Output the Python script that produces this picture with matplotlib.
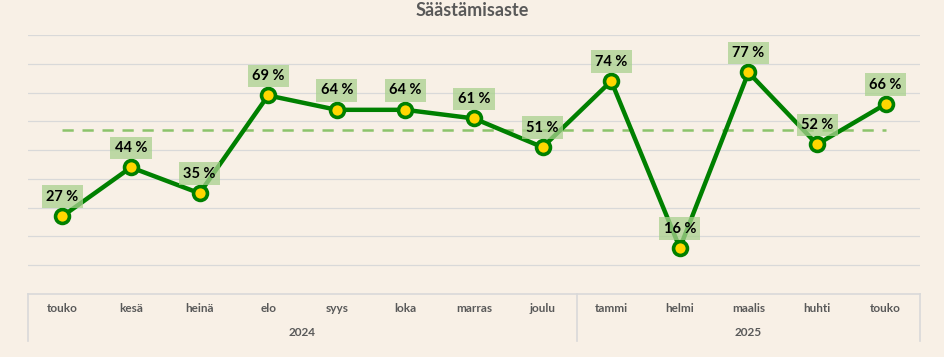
import matplotlib
matplotlib.use("Agg")
import matplotlib.pyplot as plt
from matplotlib.transforms import blended_transform_factory

months = ["touko", "kesä", "heinä", "elo", "syys", "loka", "marras", "joulu",
          "tammi", "helmi", "maalis", "huhti", "touko"]
years = ["2024", "2025"]
year_counts = [8, 5]
values = [27, 44, 35, 69, 64, 64, 61, 51, 74, 16, 77, 52, 66]
reference_level = 57
title = "Säästämisaste"

BG = "#F8F0E6"
plt.rcParams['font.family'] = ['Lato', 'DejaVu Sans']

fig = plt.figure(figsize=(9.45, 3.57), dpi=100, facecolor=BG)
ax = fig.add_axes([28/945, 1-294/357, (920-28)/945, (294-35)/357])
ax.set_facecolor(BG)
x = list(range(len(values)))
ax.set_xlim(-0.5, len(values)-0.5)
ax.set_ylim(0, 90)
for y in range(10, 100, 10):
    ax.axhline(y, color="#D9D9D9", lw=0.9, zorder=0)
for s in ax.spines.values():
    s.set_visible(False)
ax.set_xticks([]); ax.set_yticks([])

ax.plot([x[0], x[-1]], [reference_level, reference_level], ls=(0, (4.5, 3.5)),
        color="#8CC36B", lw=1.8, zorder=1)
ax.plot(x, values, color="#008000", lw=3.2, marker="o", ms=10,
        mfc="#FFD700", mec="#008000", mew=2.6, zorder=3)
for xi, v in zip(x, values):
    ax.annotate(f"{v} %", (xi, v), xytext=(0, 14), textcoords="offset points",
                ha="center", va="center", fontsize=10.5, fontweight="bold", color="black",
                bbox=dict(boxstyle="square,pad=0.3", fc="#A9D18E", ec="none", alpha=0.75),
                zorder=5)

fig.text(0.5, 1-10/357, title, ha="center", va="center", fontsize=13,
         fontweight="bold", color="#595959")

# category axis
tr = blended_transform_factory(ax.transData, fig.transFigure)
ytop = 1-294/357
ybot = 1-341/357
ax.plot([-0.5, len(values)-0.5], [ytop, ytop], transform=tr, color="#D9D9D9",
        lw=1.2, clip_on=False)
for xi, m in zip(x, months):
    ax.text(xi, 1-309/357, m, transform=tr, ha="center", va="center",
            fontsize=8.5, fontweight="bold", color="#595959")
start = 0
bounds = [-0.5]
for yr, c in zip(years, year_counts):
    ax.text(start + (c-1)/2, 1-333/357, yr, transform=tr, ha="center", va="center",
            fontsize=8.5, fontweight="bold", color="#595959")
    start += c
    bounds.append(start-0.5)
for b in bounds:
    ax.plot([b, b], [ytop, ybot], transform=tr, color="#D9D9D9", lw=1.2, clip_on=False)

fig.savefig("out.png", dpi=100, facecolor=BG)
